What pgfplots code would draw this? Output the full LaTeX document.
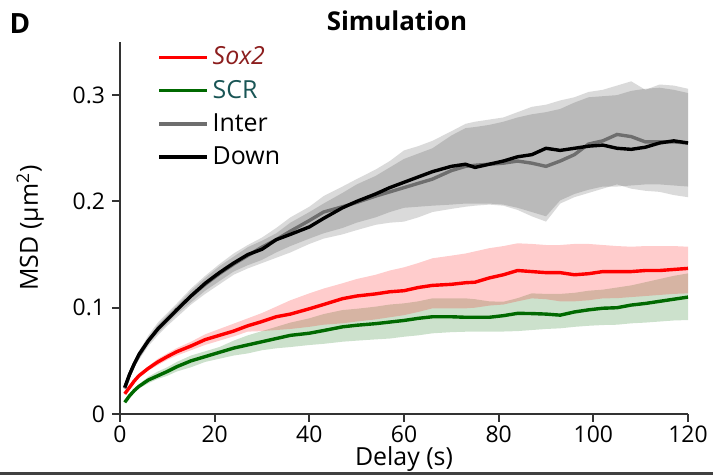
\documentclass[border=0pt]{standalone}
\usepackage{fontspec}
\setmainfont{Open Sans}
\usepackage{pgfplots}
\usepackage{pgfplotstable}
\pgfplotsset{compat=1.18}
\usepgfplotslibrary{fillbetween}

\definecolor{soxred}{RGB}{255,0,0}
\definecolor{scrgreen}{RGB}{0,105,0}
\definecolor{intergray}{RGB}{110,110,110}
\definecolor{soxtext}{RGB}{140,30,30}
\definecolor{scrtext}{RGB}{25,85,85}

% x = delay (s), m = mean MSD, lo/hi = shaded band
\pgfplotstableread{
x    m      lo     hi
1    0.019  0.018  0.020
2    0.025  0.024  0.026
3    0.031  0.029  0.032
4    0.036  0.034  0.038
6    0.043  0.041  0.045
8    0.049  0.046  0.052
10   0.054  0.051  0.057
12   0.0586 0.055  0.062
15   0.064  0.060  0.068
18   0.070  0.065  0.075
21   0.074  0.069  0.080
24   0.078  0.073  0.085
27   0.083  0.0775 0.090
30   0.087  0.078  0.095
33   0.0915 0.079  0.101
36   0.094  0.080  0.107
40   0.099  0.082  0.1135
43   0.103  0.084  0.118
47   0.1085 0.0853 0.123
50   0.111  0.087  0.127
54   0.113  0.089  0.131
57   0.115  0.091  0.135
60   0.116  0.093  0.138
63   0.119  0.096  0.142
66   0.121  0.0994 0.1465
70   0.122  0.0994 0.149
73   0.1235 0.0994 0.151
75   0.124  0.100  0.153
78   0.128  0.102  0.156
81   0.131  0.103  0.158
84   0.135  0.106  0.1606
87   0.134  0.1088 0.160
90   0.133  0.108  0.159
93   0.133  0.106  0.159
96   0.131  0.106  0.160
99   0.132  0.107  0.160
102  0.134  0.1088 0.159
105  0.134  0.109  0.158
108  0.134  0.110  0.1574
111  0.135  0.111  0.158
114  0.135  0.112  0.158
117  0.136  0.113  0.158
120  0.137  0.1135 0.1574
}\sox

\pgfplotstableread{
x    m      lo     hi
1    0.011  0.010  0.012
2    0.017  0.016  0.018
3    0.022  0.020  0.024
4    0.026  0.024  0.028
6    0.032  0.029  0.035
8    0.036  0.033  0.040
10   0.040  0.036  0.044
12   0.0445 0.040  0.049
15   0.050  0.044  0.055
18   0.054  0.049  0.059
21   0.058  0.052  0.063
24   0.062  0.055  0.069
27   0.065  0.057  0.074
30   0.068  0.060  0.078
33   0.071  0.0618 0.082
36   0.074  0.063  0.086
40   0.076  0.0649 0.090
43   0.0785 0.066  0.094
47   0.082  0.068  0.0978
50   0.0835 0.069  0.099
54   0.085  0.0702 0.101
57   0.0865 0.071  0.103
60   0.088  0.0727 0.1041
63   0.090  0.074  0.106
66   0.0915 0.0759 0.1088
70   0.0915 0.077  0.1088
73   0.091  0.0774 0.1088
75   0.091  0.0774 0.108
78   0.091  0.0774 0.106
81   0.0925 0.0776 0.1056
84   0.0947 0.078  0.109
87   0.0945 0.079  0.1135
90   0.094  0.080  0.113
93   0.093  0.0806 0.113
96   0.096  0.082  0.114
99   0.098  0.083  0.116
102  0.0995 0.0837 0.117
105  0.100  0.084  0.119
108  0.1025 0.0853 0.121
111  0.104  0.086  0.124
114  0.106  0.087  0.127
117  0.108  0.088  0.130
120  0.110  0.0884 0.1323
}\scr

\pgfplotstableread{
x    m      lo     hi
1    0.024  0.023  0.026
2    0.037  0.034  0.040
3    0.047  0.044  0.050
4    0.055  0.051  0.059
6    0.069  0.064  0.074
8    0.080  0.074  0.086
10   0.089  0.083  0.095
12   0.098  0.091  0.104
15   0.111  0.103  0.118
18   0.122  0.113  0.130
21   0.132  0.122  0.141
24   0.141  0.131  0.151
27   0.149  0.137  0.159
30   0.157  0.142  0.166
33   0.164  0.147  0.175
36   0.172  0.152  0.185
40   0.182  0.160  0.195
43   0.190  0.165  0.205
47   0.195  0.169  0.214
50   0.199  0.173  0.221
54   0.205  0.178  0.230
57   0.209  0.180  0.238
60   0.213  0.181  0.248
63   0.217  0.185  0.252
66   0.221  0.190  0.257
70   0.229  0.193  0.266
73   0.233  0.195  0.273
75   0.234  0.196  0.275
78   0.235  0.197  0.277
81   0.236  0.196  0.279
84   0.238  0.192  0.284
87   0.236  0.186  0.289
90   0.233  0.181  0.291
93   0.238  0.198  0.295
96   0.244  0.204  0.298
99   0.254  0.208  0.303
102  0.257  0.212  0.305
105  0.263  0.216  0.309
108  0.261  0.212  0.313
111  0.256  0.210  0.305
114  0.256  0.209  0.310
117  0.256  0.206  0.309
120  0.255  0.204  0.306
}\inter

\pgfplotstableread{
x    m      lo     hi
1    0.025  0.024  0.026
2    0.037  0.035  0.039
3    0.047  0.045  0.049
4    0.056  0.053  0.059
6    0.069  0.066  0.072
8    0.080  0.076  0.084
10   0.089  0.085  0.093
12   0.098  0.094  0.102
15   0.111  0.105  0.116
18   0.123  0.116  0.128
21   0.133  0.125  0.139
24   0.142  0.134  0.148
27   0.150  0.140  0.157
30   0.155  0.145  0.163
33   0.164  0.152  0.170
36   0.169  0.158  0.180
40   0.176  0.165  0.190
43   0.184  0.170  0.198
47   0.194  0.175  0.208
50   0.200  0.180  0.216
54   0.207  0.185  0.224
57   0.213  0.190  0.232
60   0.218  0.194  0.240
63   0.223  0.195  0.245
66   0.228  0.196  0.250
70   0.233  0.197  0.262
73   0.235  0.198  0.269
75   0.232  0.198  0.270
78   0.235  0.198  0.272
81   0.238  0.197  0.275
84   0.242  0.194  0.279
87   0.244  0.190  0.282
90   0.250  0.186  0.284
93   0.248  0.201  0.287
96   0.250  0.207  0.293
99   0.252  0.211  0.298
102  0.253  0.214  0.299
105  0.250  0.214  0.300
108  0.249  0.215  0.304
111  0.251  0.216  0.306
114  0.255  0.216  0.307
117  0.257  0.215  0.305
120  0.255  0.214  0.302
}\down

\begin{document}
\begin{tikzpicture}
\begin{axis}[
  at={(60bp,30.5bp)}, anchor=south west,
  scale only axis, width=284bp, height=186bp,
  xmin=0, xmax=120, ymin=0, ymax=0.35,
  axis x line*=bottom, axis y line*=left,
  axis line style={line width=1bp, black!80},
  tick align=outside, major tick length=4bp,
  tick style={line width=1bp, black!80},
  xtick={0,20,...,120}, ytick={0,0.1,0.2,0.3},
  scaled y ticks=false,
  yticklabel style={/pgf/number format/fixed},
  xticklabel style={yshift=1.5bp},
  /pgf/number format/assume math mode=true,
  tick label style={font=\fontsize{11.5}{13}\selectfont},
  label style={font=\fontsize{12.5}{14}\selectfont},
  xlabel={Delay (s)},
  ylabel={MSD (µm\textsuperscript{2})},
  xlabel style={at={(axis description cs:0.5,-0.12)}, anchor=center},
  ylabel style={at={(axis description cs:-0.158,0.5)}, anchor=center},
  legend style={at={(axis description cs:0.065,0.999)}, anchor=north west,
    draw=none, fill=none, font=\fontsize{12.5}{14}\selectfont,
    row sep=2.2bp, inner sep=0pt},
  legend cell align=left,
  legend image code/.code={\draw[#1] (0bp,0bp) -- (24bp,0bp);},
]
% shaded bands
\addplot[name path=iH, draw=none, forget plot] table[x=x,y=hi]{\inter};
\addplot[name path=iL, draw=none, forget plot] table[x=x,y=lo]{\inter};
\addplot[fill=black, fill opacity=0.145, draw=none, forget plot] fill between[of=iH and iL];
\addplot[name path=dH, draw=none, forget plot] table[x=x,y=hi]{\down};
\addplot[name path=dL, draw=none, forget plot] table[x=x,y=lo]{\down};
\addplot[fill=black, fill opacity=0.145, draw=none, forget plot] fill between[of=dH and dL];
\addplot[name path=gH, draw=none, forget plot] table[x=x,y=hi]{\scr};
\addplot[name path=gL, draw=none, forget plot] table[x=x,y=lo]{\scr};
\addplot[fill=scrgreen, fill opacity=0.2, draw=none, forget plot] fill between[of=gH and gL];
\addplot[name path=sH, draw=none, forget plot] table[x=x,y=hi]{\sox};
\addplot[name path=sL, draw=none, forget plot] table[x=x,y=lo]{\sox};
\addplot[fill=soxred, fill opacity=0.2, draw=none, forget plot] fill between[of=sH and sL];
% means
\addplot[soxred, line width=1.7bp, no markers] table[x=x,y=m]{\sox};
\addlegendentry{\textcolor{soxtext}{\itshape Sox2}}
\addplot[scrgreen, line width=1.7bp, no markers] table[x=x,y=m]{\scr};
\addlegendentry{\textcolor{scrtext}{SCR}}
\addplot[intergray, line width=1.7bp, no markers] table[x=x,y=m]{\inter};
\addlegendentry{Inter}
\addplot[black, line width=1.7bp, no markers] table[x=x,y=m]{\down};
\addlegendentry{Down}
\end{axis}
\node[font=\bfseries\fontsize{13}{15}\selectfont] at (198.5bp,227bp) {Simulation};
\node[font=\bfseries\fontsize{14}{16}\selectfont] at (10bp,225.5bp) {D};
\draw[line width=1.3bp, black!75] (0,0.65bp) -- (356.5bp,0.65bp);
\pgfresetboundingbox
\useasboundingbox (0,0) rectangle (356.5bp,237.5bp);
\end{tikzpicture}
\end{document}
